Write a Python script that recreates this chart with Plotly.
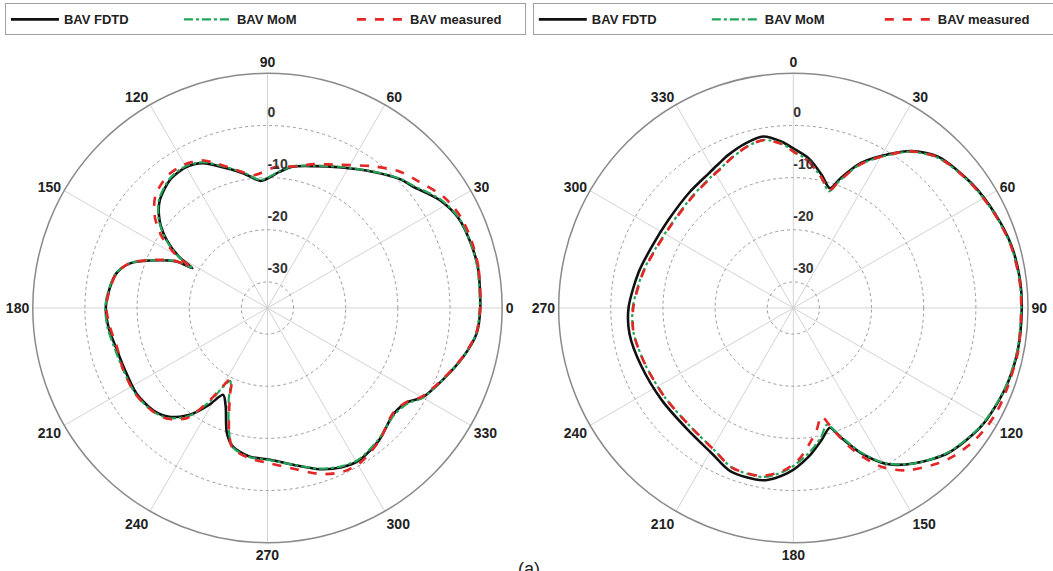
import plotly.graph_objects as go

# ---------------- data (dB) ----------------
# Left panel: angle counter-clockwise from east
L_fdtd_theta = [0, 11, 18, 25, 32, 40, 44, 52, 63, 72, 80, 85, 93, 100, 110, 114, 120, 127, 135, 141,
                146, 150, 152, 153, 158, 162, 167, 175, 180, 187, 195, 203, 213, 222, 228, 234, 239, 243, 247, 252,
                256, 263, 271, 280, 288, 295, 301, 310, 320, 326, 330, 338, 346, 353, 360]
L_fdtd_r = [5.8, 6.1, 5.9, 5.5, 4.0, 1.3, 0.5, -1.9, -4.7, -6.4, -7.5, -8.8, -10.6, -8.8, -5.9, -4.6, -3.8, -4.1, -5.8, -8.4,
            -11.7, -15.5, -18.7, -15.4, -10.7, -7.3, -5.3, -4.3, -4.0, -4.3, -5.0, -5.2, -5.0, -5.6, -6.9, -9.7, -13.4, -16.3, -14.5, -9.8,
            -7.6, -6.3, -5.9, -4.4, -2.5, -1.3, -0.9, -1.8, -3.4, -2.7, -0.7, 1.4, 3.7, 5.4, 5.8]

L_mom_theta = [0, 11, 18, 25, 32, 40, 44, 52, 63, 72, 80, 85, 93, 100, 110, 114, 120, 127, 135, 141,
               146, 150, 152, 153, 158, 162, 167, 175, 180, 187, 195, 203, 213, 222, 228, 234, 238, 243, 247, 253,
               256, 263, 271, 280, 288, 295, 301, 310, 320, 326, 330, 338, 346, 353, 360]
L_mom_r = [5.7, 6.0, 5.9, 5.6, 4.2, 1.5, 0.6, -1.8, -4.6, -6.3, -7.4, -8.7, -10.4, -8.6, -5.7, -4.4, -3.6, -3.9, -5.6, -8.2,
           -11.5, -15.3, -18.5, -15.2, -10.6, -7.2, -5.2, -4.2, -3.9, -4.1, -4.7, -4.9, -4.8, -5.4, -6.6, -9.4, -13.6, -19.3, -16.0, -9.9,
           -7.5, -6.2, -5.8, -4.4, -2.6, -1.5, -1.1, -2.0, -3.2, -2.4, -0.6, 1.4, 3.7, 5.3, 5.7]

L_meas_theta = [0, 11, 18, 25, 32, 40, 46, 53, 63, 72, 78, 87, 96, 100, 110, 114, 120, 127, 135, 141,
                146, 150, 152, 153, 158, 162, 167, 175, 180, 187, 195, 203, 213, 222, 228, 234, 238, 243, 247, 253,
                256, 263, 271, 280, 288, 295, 301, 310, 320, 326, 330, 338, 346, 353, 360]
L_meas_r = [5.8, 6.2, 6.2, 6.0, 5.0, 2.8, 1.4, -1.0, -4.2, -6.0, -7.2, -8.0, -9.4, -8.6, -5.4, -4.0, -3.2, -3.2, -4.6, -7.2,
            -10.6, -14.8, -18.0, -15.0, -10.5, -7.2, -5.3, -4.4, -4.1, -4.6, -5.2, -4.9, -4.8, -5.4, -6.4, -9.0, -14.2, -19.8, -16.5, -9.9,
            -7.3, -6.0, -5.2, -3.6, -1.5, -0.4, -0.4, -1.7, -3.6, -2.8, -0.9, 1.3, 3.6, 5.3, 5.8]

# Right panel: angle clockwise from north
R_fdtd_theta = [0, 6, 12, 17, 20, 25, 32, 37, 44, 55, 65, 74, 83, 90, 101, 111, 122, 133, 142, 149,
                155, 160, 163, 168, 174, 182, 190, 201, 209, 221, 235, 249, 261, 270, 283, 293, 305, 318, 328, 333,
                337, 344, 350, 356, 360]
R_fdtd_r = [-4.4, -6.2, -8.9, -11.0, -8.5, -4.3, -0.2, 2.7, 5.2, 6.7, 7.7, 8.5, 8.8, 8.8, 8.8, 8.45, 7.6, 5.7, 2.8, -0.1,
            -4.3, -8.7, -11.0, -9.1, -6.4, -3.3, -1.45, -1.45, -3.0, -4.1, -4.2, -3.8, -3.2, -3.4, -4.55, -5.4, -5.7, -5.2, -4.5, -3.8,
            -3.1, -2.1, -1.6, -3.05, -4.4]

R_mom_theta = [0, 6, 12, 17, 20, 25, 32, 37, 44, 55, 65, 74, 83, 90, 101, 111, 122, 133, 142, 149,
               155, 160, 164, 168, 174, 182, 190, 201, 209, 221, 235, 249, 261, 270, 283, 293, 305, 318, 328, 333,
               337, 344, 350, 356, 360]
R_mom_r = [-4.9, -6.7, -9.4, -11.6, -9.0, -4.6, -0.4, 2.5, 5.0, 6.6, 7.6, 8.4, 8.7, 8.7, 8.7, 8.4, 7.5, 5.6, 2.8, -0.2,
           -4.5, -9.0, -11.7, -9.6, -7.0, -4.0, -2.1, -2.2, -3.8, -4.9, -5.0, -4.6, -4.0, -4.2, -5.3, -6.2, -6.6, -6.1, -5.3, -4.7,
           -4.0, -2.8, -2.3, -3.4, -4.9]

R_meas_theta = [0, 6, 12, 17, 20, 25, 32, 37, 44, 55, 65, 74, 83, 90, 101, 111, 117, 122, 127, 133,
                137, 145, 151, 157, 161.5, 165.5, 169, 172, 178, 184, 191, 201, 209, 221, 235, 249, 261, 270, 283, 293,
                305, 318, 328, 333, 337, 344, 350, 356, 360]
R_meas_r = [-5.0, -6.8, -9.3, -11.3, -9.0, -4.6, -0.3, 2.6, 5.1, 6.6, 7.6, 8.4, 8.7, 8.7, 8.9, 8.8, 8.8, 8.5, 7.9, 6.8,
            5.7, 3.0, -0.2, -5.3, -10.0, -13.5, -11.3, -9.5, -5.9, -3.6, -2.2, -2.2, -3.8, -4.9, -5.0, -4.6, -4.0, -4.3, -5.4, -6.3,
            -6.7, -6.2, -5.4, -4.8, -4.0, -2.8, -2.3, -3.5, -5.0]

angle_ticks = [0, 30, 60, 90, 120, 150, 180, 210, 240, 270, 300, 330]
angle_labels = [str(a) for a in angle_ticks]
radial_ticks = [-30, -20, -10, 0]
radial_labels = [str(t) for t in radial_ticks]
label_lift = 2.3  # radial-label placement just above each ring (dB)

names = ["BAV FDTD", "BAV MoM", "BAV measured"]
colors = ["#111111", "#23a55a", "#e32626"]
dashes = ["solid", "dashdot", "dash"]
widths = [2.6, 2.2, 2.6]

FONT = "Liberation Sans, Arial, sans-serif"

fig = go.Figure()

left_sets = [(L_fdtd_theta, L_fdtd_r), (L_mom_theta, L_mom_r), (L_meas_theta, L_meas_r)]
right_sets = [(R_fdtd_theta, R_fdtd_r), (R_mom_theta, R_mom_r), (R_meas_theta, R_meas_r)]

for i, (th, rr) in enumerate(left_sets):
    fig.add_trace(go.Scatterpolar(theta=th, r=rr, mode="lines", name=names[i], subplot="polar",
                                  legend="legend",
                                  line=dict(color=colors[i], dash=dashes[i], width=widths[i], shape="spline", smoothing=0.8),
                                  hoverinfo="skip"))
for i, (th, rr) in enumerate(right_sets):
    fig.add_trace(go.Scatterpolar(theta=th, r=rr, mode="lines", name=names[i], subplot="polar2",
                                  legend="legend2",
                                  line=dict(color=colors[i], dash=dashes[i], width=widths[i], shape="spline", smoothing=0.8),
                                  hoverinfo="skip"))

# radial tick labels
fig.add_trace(go.Scatterpolar(theta=[90] * len(radial_ticks), r=[t + label_lift for t in radial_ticks],
                              text=radial_labels, mode="text", textposition="middle right", subplot="polar",
                              textfont=dict(family=FONT, size=14, color="#333", weight="bold"),
                              showlegend=False, hoverinfo="skip"))
fig.add_trace(go.Scatterpolar(theta=[0] * len(radial_ticks), r=[t + label_lift for t in radial_ticks],
                              text=radial_labels, mode="text", textposition="middle right", subplot="polar2",
                              textfont=dict(family=FONT, size=14, color="#333", weight="bold"),
                              showlegend=False, hoverinfo="skip"))


def polar_layout(xdom, rotation, direction):
    return dict(
        domain=dict(x=xdom, y=[0.0496, 0.8716]),
        bgcolor="white",
        angularaxis=dict(rotation=rotation, direction=direction, tickmode="array",
                         tickvals=angle_ticks, ticktext=angle_labels, ticks="",
                         showline=True, linecolor="#8a8a8a", linewidth=1.5,
                         showgrid=True, gridcolor="#d3d3d3", gridwidth=1,
                         tickfont=dict(family=FONT, size=14, color="#222", weight="bold")),
        radialaxis=dict(range=[-35, 10], tickvals=radial_ticks, showticklabels=False, ticks="",
                        showline=False, showgrid=True, gridcolor="#9a9a9a", griddash="dot", gridwidth=1,
                        angle=90),
    )


legend_common = dict(orientation="h", xanchor="left", yanchor="top", y=0.994,
                     bordercolor="#a0a0a0", borderwidth=1, bgcolor="white",
                     itemwidth=48, entrywidth=110, entrywidthmode="pixels",
                     font=dict(family=FONT, size=13, color="#222", weight="bold"))

fig.update_layout(
    width=1053, height=571,
    margin=dict(l=0, r=0, t=0, b=0, autoexpand=False),
    paper_bgcolor="white",
    polar=polar_layout([0.0311, 0.4769], 0, "counterclockwise"),
    polar2=polar_layout([0.5305, 0.9763], 90, "clockwise"),
    legend=dict(x=0.0047, **legend_common),
    legend2=dict(x=0.506, **legend_common),
    annotations=[dict(text="(a)", x=0.502, y=0.024, xref="paper", yref="paper", xanchor="center",
                      yanchor="top", showarrow=False, font=dict(family=FONT, size=18, color="#222"))],
)

fig.write_html("out.html", config={"displayModeBar": False},
               post_script="document.body.style.margin='0';")
